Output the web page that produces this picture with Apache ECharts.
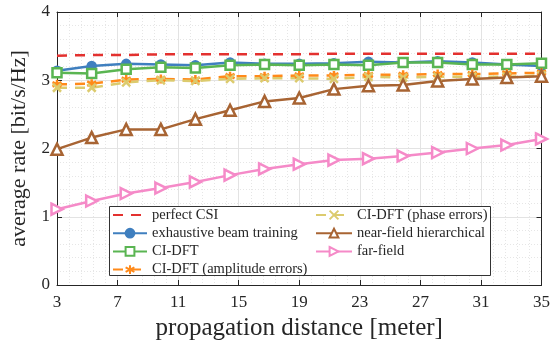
<!DOCTYPE html>
<html>
<head>
<meta charset="utf-8">
<script src="https://cdn.jsdelivr.net/npm/echarts@6/dist/echarts.min.js"></script>
<style>
  html, body { margin: 0; padding: 0; background: #fff; }
  #main { width: 553px; height: 347px; }
</style>
</head>
<body>
<div id="main"></div>
<script>
// propagation distance [meter], 15 points from 3 to 35
var distance = [3, 5.29, 7.57, 9.86, 12.14, 14.43, 16.71, 19, 21.29, 23.57, 25.86, 28.14, 30.43, 32.71, 35];
var xTicks = [3, 7, 11, 15, 19, 23, 27, 31, 35];
var yTicks = [0, 1, 2, 3, 4];

// average rate [bit/s/Hz]
var perfectCSI   = [3.36, 3.37, 3.37, 3.38, 3.38, 3.38, 3.38, 3.38, 3.39, 3.39, 3.39, 3.39, 3.39, 3.39, 3.39];
var exhaustive   = [3.14, 3.21, 3.24, 3.23, 3.22, 3.26, 3.24, 3.24, 3.25, 3.27, 3.26, 3.28, 3.26, 3.23, 3.21];
var ciDft        = [3.11, 3.10, 3.16, 3.19, 3.18, 3.22, 3.23, 3.22, 3.23, 3.22, 3.26, 3.26, 3.23, 3.23, 3.25];
var ciDftAmp     = [2.94, 2.95, 3.01, 3.02, 3.01, 3.06, 3.06, 3.07, 3.07, 3.08, 3.08, 3.09, 3.09, 3.10, 3.11];
var ciDftPhase   = [2.89, 2.89, 2.97, 3.00, 2.99, 3.02, 3.03, 3.03, 3.02, 3.05, 3.04, 3.05, 3.05, 3.05, 3.07];
var nearField    = [1.99, 2.16, 2.28, 2.28, 2.43, 2.56, 2.69, 2.74, 2.87, 2.92, 2.93, 2.99, 3.02, 3.04, 3.06];
var farField     = [1.11, 1.23, 1.34, 1.42, 1.51, 1.61, 1.70, 1.77, 1.83, 1.85, 1.89, 1.94, 2.00, 2.05, 2.14];

var X0 = xTicks[0];   // axis is drawn from 0, labels shifted back by X0 so ticks sit on 3,7,11...
function pairs(vals)
{
    var out = [];
    for (var i = 0; i < distance.length; i++) {
        out.push([distance[i] - X0, vals[i]]);
    }
    return out;
}

var serifFont = '"Liberation Serif", "DejaVu Serif", serif';
var axisColor = '#262626';

var starPath = 'path://M0,-10L0,10M-8.66,-5L8.66,5M-8.66,5L8.66,-5';
var crossPath = 'path://M-7,-7L7,7M-7,7L7,-7';

function mkSeries(name, vals, color, symbol, symbolSize, dashed, filled)
{
    var noMark = (symbol === 'none');
    return {
        name: name,
        type: 'line',
        data: pairs(vals),
        symbol: noMark ? 'circle' : symbol,
        symbolSize: noMark ? 0 : symbolSize,
        showSymbol: !noMark,
        lineStyle: {
            color: color,
            width: 2.5,
            type: dashed ? [10, 8] : 'solid'
        },
        itemStyle: noMark ? {
            color: 'rgba(0,0,0,0)',
            borderColor: 'rgba(0,0,0,0)',
            borderWidth: 0
        } : {
            color: filled ? color : '#fff',
            borderColor: color,
            borderWidth: 2.5
        },
        emphasis: { disabled: true },
        animation: false,
        z: 2
    };
}

var myChart = echarts.init(document.getElementById('main'));

var baseX = {
    type: 'value',
    min: 0,
    max: xTicks[xTicks.length - 1] - X0,
    interval: 4,
    axisLine: { show: true, onZero: false, lineStyle: { color: axisColor, width: 1 } },
    axisTick: { show: true, inside: true, length: 5, lineStyle: { color: axisColor } }
};
var baseY = {
    type: 'value',
    min: yTicks[0],
    max: yTicks[yTicks.length - 1],
    interval: 1,
    axisLine: { show: true, onZero: false, lineStyle: { color: axisColor, width: 1 } },
    axisTick: { show: true, inside: true, length: 5, lineStyle: { color: axisColor } }
};

var legendText = { fontFamily: serifFont, fontSize: 14.5, color: '#262626', lineHeight: 14 };

myChart.setOption({
    animation: false,
    grid: {
        left: 57,
        right: 11,
        top: 12,
        bottom: 62,
        containLabel: false
    },
    xAxis: [
        Object.assign({}, baseX, {
            position: 'bottom',
            name: 'propagation distance [meter]',
            nameLocation: 'middle',
            nameGap: 30,
            nameTextStyle: { fontFamily: serifFont, fontSize: 25, color: '#262626' },
            axisLabel: {
                margin: 9,
                fontFamily: serifFont,
                fontSize: 17,
                color: '#262626',
                formatter: function (v) { return v + X0; }
            },
            splitLine: { show: true, lineStyle: { color: '#e3e3e3', width: 1 } },
            minorTick: { show: true, splitNumber: 5, length: 0 },
            minorSplitLine: { show: true, lineStyle: { color: '#e6e6e6', width: 1, type: [1, 2] } }
        }),
        Object.assign({}, baseX, {
            position: 'top',
            axisLabel: { show: false },
            splitLine: { show: false }
        })
    ],
    yAxis: [
        Object.assign({}, baseY, {
            position: 'left',
            name: 'average rate [bit/s/Hz]',
            nameLocation: 'middle',
            nameGap: 24,
            nameTextStyle: { fontFamily: serifFont, fontSize: 22, color: '#262626' },
            axisLabel: { margin: 7, fontFamily: serifFont, fontSize: 17, color: '#262626' },
            splitLine: { show: true, lineStyle: { color: '#e3e3e3', width: 1 } },
            minorTick: { show: true, splitNumber: 5, length: 0 },
            minorSplitLine: { show: true, lineStyle: { color: '#e6e6e6', width: 1, type: [1, 2] } }
        }),
        Object.assign({}, baseY, {
            position: 'right',
            axisLabel: { show: false },
            splitLine: { show: false }
        })
    ],
    graphic: [{
        type: 'rect',
        left: 109,
        top: 206,
        shape: { width: 381, height: 69 },
        style: { fill: '#fff', stroke: '#333', lineWidth: 1 },
        z: 10
    }],
    legend: [
        {
            orient: 'vertical',
            left: 112,
            top: 207.5,
            padding: 0,
            itemWidth: 34,
            itemHeight: 11,
            itemGap: 3.2,
            z: 20,
            textStyle: legendText,
            data: ['perfect CSI', 'exhaustive beam training', 'CI-DFT', 'CI-DFT (amplitude errors)']
        },
        {
            orient: 'vertical',
            left: 315,
            top: 207.5,
            padding: 0,
            itemWidth: 36,
            itemHeight: 11,
            itemGap: 3.2,
            z: 20,
            textStyle: legendText,
            data: ['CI-DFT (phase errors)', 'near-field hierarchical', 'far-field']
        }
    ],
    series: [
        mkSeries('perfect CSI', perfectCSI, '#e3312f', 'none', 0, true, false),
        mkSeries('exhaustive beam training', exhaustive, '#3f7fbf', 'circle', 8, false, true),
        mkSeries('CI-DFT', ciDft, '#5ab552', 'rect', 9, false, false),
        mkSeries('CI-DFT (amplitude errors)', ciDftAmp, '#ff8a1a', starPath, 9, true, true),
        mkSeries('CI-DFT (phase errors)', ciDftPhase, '#dccb6e', crossPath, 8, true, true),
        mkSeries('near-field hierarchical', nearField, '#a86433', 'triangle', 11, false, false),
        mkSeries('far-field', farField, '#f58ac8', 'path://M-6,-7L7,0L-6,7Z', 11, false, false)
    ]
});
</script>
</body>
</html>
